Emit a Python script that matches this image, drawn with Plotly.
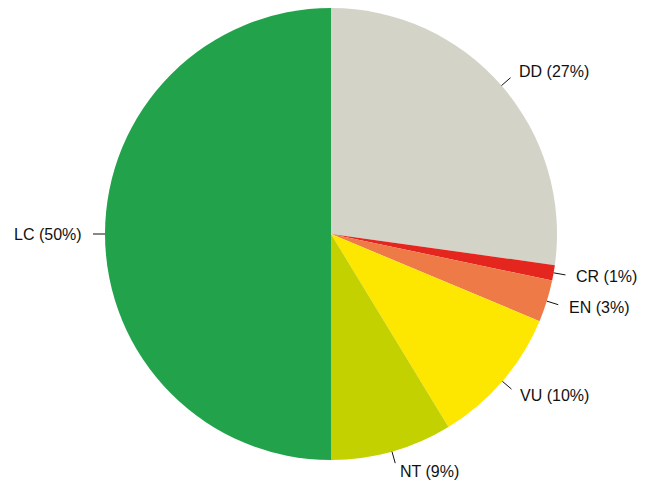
import math
import plotly.graph_objects as go

# Red List categories, clockwise from 12 o'clock
categories = ["DD", "CR", "EN", "VU", "NT", "LC"]
shares = [27.2, 1.1, 3.0, 10.0, 8.7, 50.0]
labels = ["DD (27%)", "CR (1%)", "EN (3%)", "VU (10%)", "NT (9%)", "LC (50%)"]
colors = ["#d4d3c7", "#e5261f", "#ee7a48", "#fde700", "#c4d100", "#22a34b"]

W, H = 646, 481
margin = dict(l=16, r=0, t=8, b=21)
pw = W - margin["l"] - margin["r"]
ph = H - margin["t"] - margin["b"]
R = min(pw, ph) / 2
cx = margin["l"] + pw / 2
cy = margin["t"] + ph / 2


def to_paper(px, py):
    return (px - margin["l"]) / pw, 1 - (py - margin["t"]) / ph


fig = go.Figure()
fig.add_trace(
    go.Pie(
        labels=categories,
        values=shares,
        sort=False,
        direction="clockwise",
        rotation=0,
        textinfo="none",
        hoverinfo="label+percent",
        marker=dict(colors=colors, line=dict(width=0)),
    )
)

# Leader ticks and labels, placed at the middle angle of each slice
shapes = []
annotations = []
total = sum(shares)
start = 0.0
for lab, v in zip(labels, shares):
    mid = math.radians((start + v / 2) / total * 360)
    start += v
    sx, sy = math.sin(mid), -math.cos(mid)
    x0, y0 = to_paper(cx + R * sx, cy + R * sy)
    x1, y1 = to_paper(cx + (R + 12) * sx, cy + (R + 12) * sy)
    shapes.append(
        dict(type="line", xref="paper", yref="paper", x0=x0, y0=y0, x1=x1, y1=y1,
             line=dict(color="#111111", width=1))
    )
    tx, ty = to_paper(cx + (R + 21) * sx, cy + (R + 21) * sy)
    annotations.append(
        dict(text=lab, xref="paper", yref="paper", x=tx, y=ty, showarrow=False,
             xanchor="left" if sx >= 0 else "right", yanchor="middle")
    )

fig.update_layout(
    width=W,
    height=H,
    margin=margin,
    showlegend=False,
    paper_bgcolor="white",
    plot_bgcolor="white",
    font=dict(family="Liberation Sans, Arial, sans-serif", size=16, color="#111111"),
    shapes=shapes,
    annotations=annotations,
)

fig.write_html(
    "out.html",
    config={"displayModeBar": False},
    post_script="document.body.style.margin='0';document.body.style.overflow='hidden';",
)
